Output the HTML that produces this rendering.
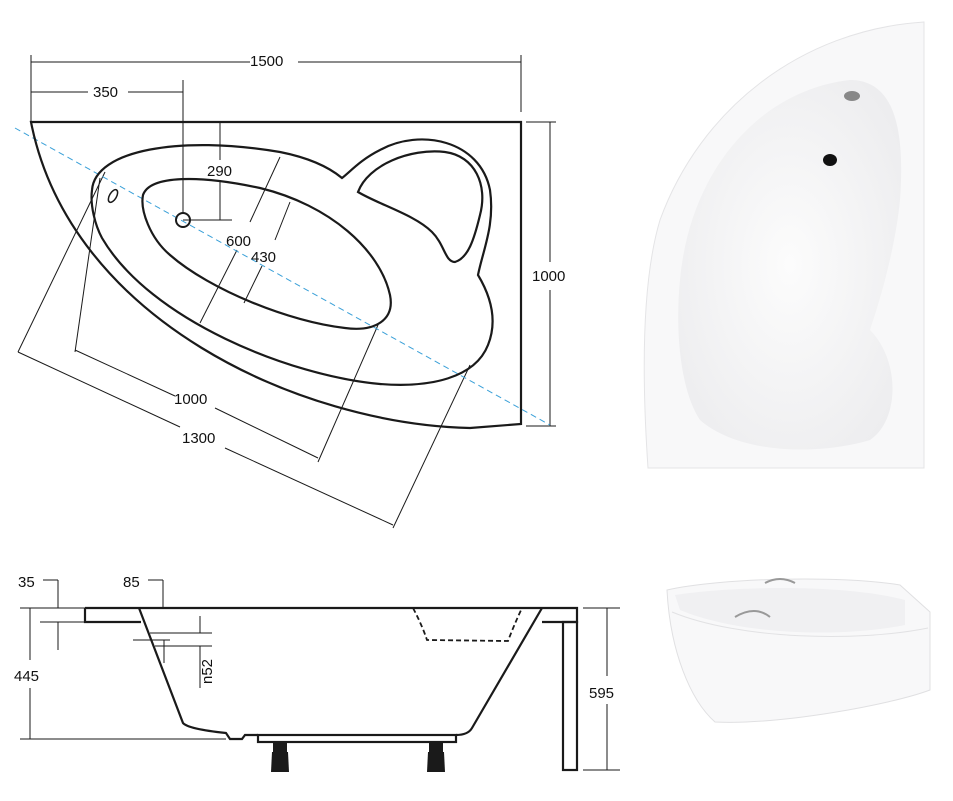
<!DOCTYPE html>
<html><head><style>html,body{margin:0;padding:0;background:#fff}svg{display:block}text{font-family:"Liberation Sans",sans-serif;font-size:15px;fill:#111}</style></head><body>
<svg width="953" height="801" viewBox="0 0 953 801" xmlns="http://www.w3.org/2000/svg">
<defs>
<radialGradient id="g1" cx="50%" cy="50%" r="60%"><stop offset="0" stop-color="#fcfcfc"/><stop offset="1" stop-color="#ededef"/></radialGradient>
</defs>
<g fill="none" stroke="#1a1a1a" stroke-width="1">
<line x1="31" y1="55" x2="31" y2="122"/><line x1="521" y1="55" x2="521" y2="112"/>
<line x1="31" y1="62" x2="250" y2="62"/><line x1="298" y1="62" x2="521" y2="62"/>
<line x1="31" y1="92" x2="88" y2="92"/><line x1="128" y1="92" x2="183" y2="92"/>
<line x1="31" y1="85" x2="31" y2="100"/><line x1="183" y1="80" x2="183" y2="213"/>
<line x1="220" y1="122" x2="220" y2="160"/><line x1="220" y1="182" x2="220" y2="220"/>
<line x1="183" y1="220" x2="232" y2="220"/>
<line x1="526" y1="122" x2="556" y2="122"/><line x1="526" y1="426" x2="556" y2="426"/>
<line x1="550" y1="122" x2="550" y2="262"/><line x1="550" y1="290" x2="550" y2="426"/>
<line x1="280" y1="157" x2="250" y2="222"/><line x1="237" y1="250" x2="200" y2="323"/>
<line x1="290" y1="202" x2="275" y2="240"/><line x1="262" y1="266" x2="244" y2="303"/>
<line x1="100" y1="178" x2="75" y2="352"/><line x1="378" y1="325" x2="318" y2="462"/>
<line x1="75" y1="350" x2="175" y2="396"/><line x1="215" y1="408" x2="318" y2="458"/>
<line x1="105" y1="172" x2="18" y2="352"/><line x1="470" y1="365" x2="393" y2="528"/>
<line x1="18" y1="352" x2="180" y2="427"/><line x1="225" y1="448" x2="393" y2="525"/>
</g>
<line x1="15" y1="128" x2="550" y2="425" stroke="#3aa0d8" stroke-width="1" stroke-dasharray="6,4"/>
<g fill="none" stroke="#1a1a1a" stroke-width="2.2">
<path d="M31,122 L521,122 L521,424 L470,428 C300,424 70,320 31,122 Z"/>
<path d="M92,190 C95,150 180,135 280,152 C310,158 330,168 342,178 C350,172 360,160 380,150 C420,128 480,140 490,190 C495,225 483,250 478,275 C490,295 498,320 488,345 C475,378 430,388 380,384 C290,376 150,320 102,238 C95,225 90,205 92,190 Z"/>
<path d="M143,195 C150,175 200,175 260,188 C330,205 380,250 390,295 C395,320 375,332 345,328 C290,322 210,290 170,255 C150,238 140,210 143,195 Z"/>
<path d="M358,192 C368,165 410,148 445,152 C475,156 488,185 480,215 C474,240 468,258 455,262 C445,262 445,245 432,232 C415,215 380,205 358,192 Z"/>
</g>
<circle cx="183" cy="220" r="7" fill="none" stroke="#1a1a1a" stroke-width="2"/>
<ellipse cx="113" cy="196" rx="3.5" ry="7" transform="rotate(30 113 196)" fill="none" stroke="#1a1a1a" stroke-width="1.5"/>
<text x="250" y="66">1500</text><text x="93" y="97">350</text><text x="207" y="176">290</text>
<text x="226" y="246">600</text><text x="251" y="262">430</text><text x="532" y="281">1000</text>
<text x="174" y="404">1000</text><text x="182" y="443">1300</text>
<g fill="none" stroke="#1a1a1a" stroke-width="2.2">
<path d="M85,608 L577,608 L577,622 L542,622 M85,608 L85,622 L141,622"/>
<rect x="563" y="622" width="14" height="148"/>
<path d="M139,608 L183,723 Q188,729 226,733 L230,739 L242,739 L245,735 L258,735"/>
<path d="M542,608 L472,728 Q468,735 456,735"/>
<rect x="258" y="735" width="198" height="7"/>
</g>
<path d="M413,608 Q422,625 427,640 L508,641 Q514,625 522,608" fill="none" stroke="#1a1a1a" stroke-width="1.8" stroke-dasharray="5,3"/>
<g fill="#1a1a1a"><rect x="273" y="742" width="14" height="10"/><path d="M272,752 L288,752 L289,772 L271,772Z"/><rect x="429" y="742" width="14" height="10"/><path d="M428,752 L444,752 L445,772 L427,772Z"/></g>
<g fill="none" stroke="#1a1a1a" stroke-width="1">
<line x1="20" y1="608" x2="85" y2="608"/><line x1="20" y1="739" x2="226" y2="739"/>
<line x1="30" y1="608" x2="30" y2="660"/><line x1="30" y1="688" x2="30" y2="739"/>
<line x1="43" y1="580" x2="58" y2="580"/><line x1="58" y1="580" x2="58" y2="608"/>
<line x1="40" y1="622" x2="85" y2="622"/><line x1="58" y1="622" x2="58" y2="650"/>
<line x1="148" y1="580" x2="163" y2="580"/><line x1="163" y1="580" x2="163" y2="608"/>
<line x1="150" y1="633" x2="212" y2="633"/><line x1="133" y1="640" x2="170" y2="640"/><line x1="155" y1="646" x2="212" y2="646"/>
<line x1="164" y1="640" x2="164" y2="663"/><line x1="200" y1="616" x2="200" y2="633"/><line x1="200" y1="646" x2="200" y2="688"/>
<line x1="583" y1="608" x2="620" y2="608"/><line x1="583" y1="770" x2="620" y2="770"/>
<line x1="607" y1="608" x2="607" y2="676"/><line x1="607" y1="704" x2="607" y2="770"/>
</g>
<text x="18" y="587">35</text><text x="123" y="587">85</text><text x="14" y="681">445</text><text x="589" y="698">595</text>
<text transform="translate(212,684) rotate(-90)">n52</text>
<path d="M648,468 L924,468 L924,22 C800,30 700,110 660,220 C645,270 640,350 648,468Z" fill="#f8f8f9" stroke="#e4e4e6"/>
<path d="M680,280 C690,170 760,90 850,80 C895,80 905,130 900,200 C895,250 880,300 870,330 C900,360 900,420 870,440 C820,455 740,455 700,420 C680,390 675,330 680,280Z" fill="url(#g1)"/>
<ellipse cx="830" cy="160" rx="7" ry="6" fill="#111"/>
<ellipse cx="852" cy="96" rx="8" ry="5" fill="#888"/>
<path d="M667,590 C720,578 840,575 900,585 L930,612 L930,690 C890,705 780,725 715,722 C690,700 670,650 667,590Z" fill="#f8f8f9" stroke="#e0e0e2"/>
<path d="M675,595 C740,585 850,585 905,600 L905,625 C840,638 740,635 680,610Z" fill="#f0f0f2"/>
<path d="M672,612 C740,640 860,642 928,628" stroke="#e2e2e4" fill="none"/>
<path d="M735,617 Q755,605 770,617 M765,583 Q780,575 795,583" stroke="#999" stroke-width="2" fill="none"/>
</svg>
</body></html>
